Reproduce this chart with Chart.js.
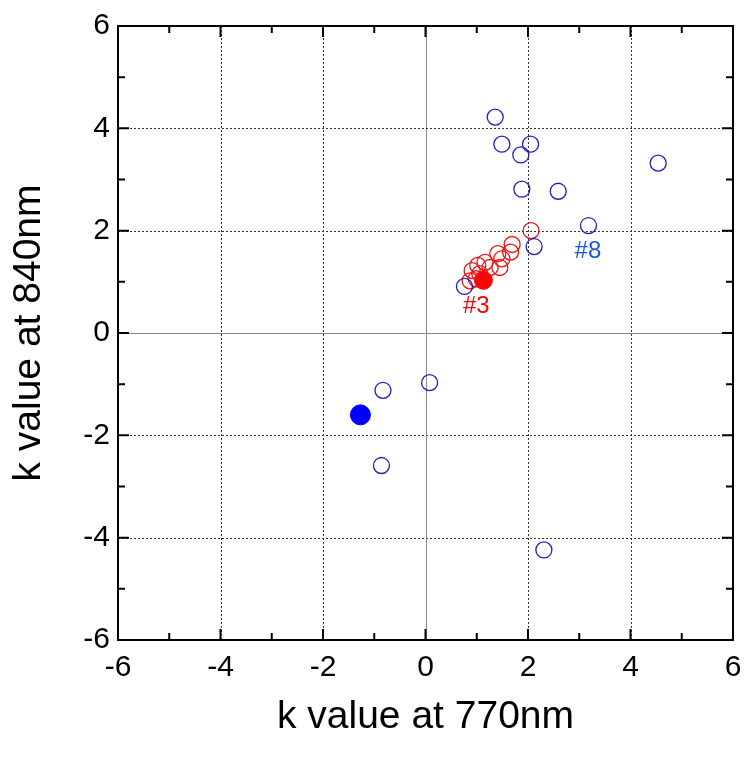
<!DOCTYPE html>
<html lang="en">
<head>
    <meta charset="UTF-8">
    <title>k value at 770nm vs 840nm</title>
    <style>
        body { margin: 0; padding: 0; background: #ffffff; }
        #wrap { width: 754px; height: 768px; }
    </style>
    <script src="https://cdn.jsdelivr.net/npm/chart.js"></script>
</head>
<body>
    <div id="wrap"><canvas id="kChart" width="754" height="768"></canvas></div>

    <script>
        // data
        var blueX = [1.36, 1.49, 2.05, 1.86, 1.88, 2.59, 4.54, 3.18, 2.12, 0.76, -0.83, 0.08, -0.86, 2.31];
        var blueY = [4.22, 3.69, 3.69, 3.48, 2.81, 2.77, 3.32, 2.10, 1.69, 0.91, -1.12, -0.97, -2.59, -4.24];
        var blueFilledX = [-1.27];
        var blueFilledY = [-1.60];

        var redX = [2.06, 1.69, 1.66, 1.41, 1.49, 1.45, 1.16, 1.02, 0.91, 1.06, 1.26, 0.87, 0.99];
        var redY = [2.00, 1.73, 1.58, 1.55, 1.45, 1.28, 1.38, 1.32, 1.22, 1.16, 1.28, 1.02, 1.06];
        var redFilledX = [1.13];
        var redFilledY = [1.03];

        var labelText = ['#3', '#8'];
        var labelX = [0.99, 3.17];
        var labelY = [0.53, 1.59];
        var labelColor = ['#ff0000', '#1c55e0'];

        var axisMin = -6, axisMax = 6;
        var fontFamily = '"Liberation Sans", Arial, sans-serif';

        function toPoints(xs, ys) {
            return xs.map(function (x, i) { return { x: x, y: ys[i] }; });
        }

        // grid, inward ticks, frame and the two point labels
        var framePlugin = {
            id: 'frame',
            beforeDatasetsDraw: function (chart) {
                var ctx = chart.ctx, a = chart.chartArea;
                var xs = chart.scales.x, ys = chart.scales.y;
                ctx.save();
                ctx.lineWidth = 1;
                for (var v = -4; v <= 4; v += 2) {
                    if (v === 0) {
                        ctx.strokeStyle = '#8a8a8a';
                        ctx.setLineDash([]);
                    } else {
                        ctx.strokeStyle = '#333333';
                        ctx.setLineDash([2, 2]);
                    }
                    var px = Math.round(xs.getPixelForValue(v)) + 0.5;
                    var py = Math.round(ys.getPixelForValue(v)) + 0.5;
                    ctx.beginPath();
                    ctx.moveTo(px, a.top); ctx.lineTo(px, a.bottom);
                    ctx.moveTo(a.left, py); ctx.lineTo(a.right, py);
                    ctx.stroke();
                }
                ctx.restore();
            },
            afterDraw: function (chart) {
                var ctx = chart.ctx, a = chart.chartArea;
                var xs = chart.scales.x, ys = chart.scales.y;
                ctx.save();
                ctx.strokeStyle = '#000000';
                ctx.lineWidth = 2;
                ctx.setLineDash([]);
                ctx.strokeRect(a.left, a.top, a.right - a.left, a.bottom - a.top);
                ctx.beginPath();
                for (var v = axisMin + 1; v < axisMax; v++) {
                    var len = (v % 2 === 0) ? 11 : 7;
                    var px = xs.getPixelForValue(v);
                    var py = ys.getPixelForValue(v);
                    ctx.moveTo(px, a.bottom); ctx.lineTo(px, a.bottom - len);
                    ctx.moveTo(px, a.top); ctx.lineTo(px, a.top + len);
                    ctx.moveTo(a.left, py); ctx.lineTo(a.left + len, py);
                    ctx.moveTo(a.right, py); ctx.lineTo(a.right - len, py);
                }
                ctx.stroke();

                ctx.font = '24px ' + fontFamily;
                ctx.textAlign = 'center';
                ctx.textBaseline = 'middle';
                for (var i = 0; i < labelText.length; i++) {
                    ctx.fillStyle = labelColor[i];
                    ctx.fillText(labelText[i], xs.getPixelForValue(labelX[i]), ys.getPixelForValue(labelY[i]));
                }
                ctx.restore();
            }
        };

        var ctxK = document.getElementById('kChart').getContext('2d');
        var kChart = new Chart(ctxK, {
            type: 'scatter',
            data: {
                datasets: [
                    {
                        label: 'blue',
                        data: toPoints(blueX, blueY),
                        pointStyle: 'circle',
                        pointRadius: 8,
                        pointBackgroundColor: 'rgba(0,0,0,0)',
                        pointBorderColor: '#2222b8',
                        pointBorderWidth: 1.3
                    },
                    {
                        label: 'red',
                        data: toPoints(redX, redY),
                        pointStyle: 'circle',
                        pointRadius: 8,
                        pointBackgroundColor: 'rgba(0,0,0,0)',
                        pointBorderColor: '#ee1111',
                        pointBorderWidth: 1.3
                    },
                    {
                        label: 'blue filled',
                        data: toPoints(blueFilledX, blueFilledY),
                        pointRadius: 10,
                        pointBackgroundColor: '#0000ff',
                        pointBorderColor: '#0000ff',
                        pointBorderWidth: 1
                    },
                    {
                        label: 'red filled',
                        data: toPoints(redFilledX, redFilledY),
                        pointRadius: 9,
                        pointBackgroundColor: '#ff0000',
                        pointBorderColor: '#ff0000',
                        pointBorderWidth: 1
                    }
                ]
            },
            options: {
                responsive: false,
                animation: false,
                layout: { padding: { left: 0, right: 21, top: 25, bottom: 27 } },
                plugins: {
                    legend: { display: false },
                    tooltip: { enabled: false }
                },
                scales: {
                    x: {
                        type: 'linear',
                        min: axisMin,
                        max: axisMax,
                        grid: { display: false, drawTicks: false },
                        border: { display: false },
                        ticks: {
                            stepSize: 2,
                            padding: 10,
                            color: '#000000',
                            maxRotation: 0,
                            font: { family: fontFamily, size: 30 }
                        },
                        title: {
                            display: true,
                            text: 'k value at 770nm',
                            color: '#000000',
                            padding: { top: 0, bottom: 0 },
                            font: { family: fontFamily, size: 39 }
                        },
                        afterFit: function (scale) { scale.height = 101; }
                    },
                    y: {
                        type: 'linear',
                        min: axisMin,
                        max: axisMax,
                        grid: { display: false, drawTicks: false },
                        border: { display: false },
                        ticks: {
                            stepSize: 2,
                            padding: 8,
                            color: '#000000',
                            font: { family: fontFamily, size: 30 }
                        },
                        title: {
                            display: true,
                            text: 'k value at 840nm',
                            color: '#000000',
                            padding: { top: 6, bottom: 0 },
                            font: { family: fontFamily, size: 39 }
                        },
                        afterFit: function (scale) { scale.width = 118; }
                    }
                }
            },
            plugins: [framePlugin]
        });
    </script>
</body>
</html>
